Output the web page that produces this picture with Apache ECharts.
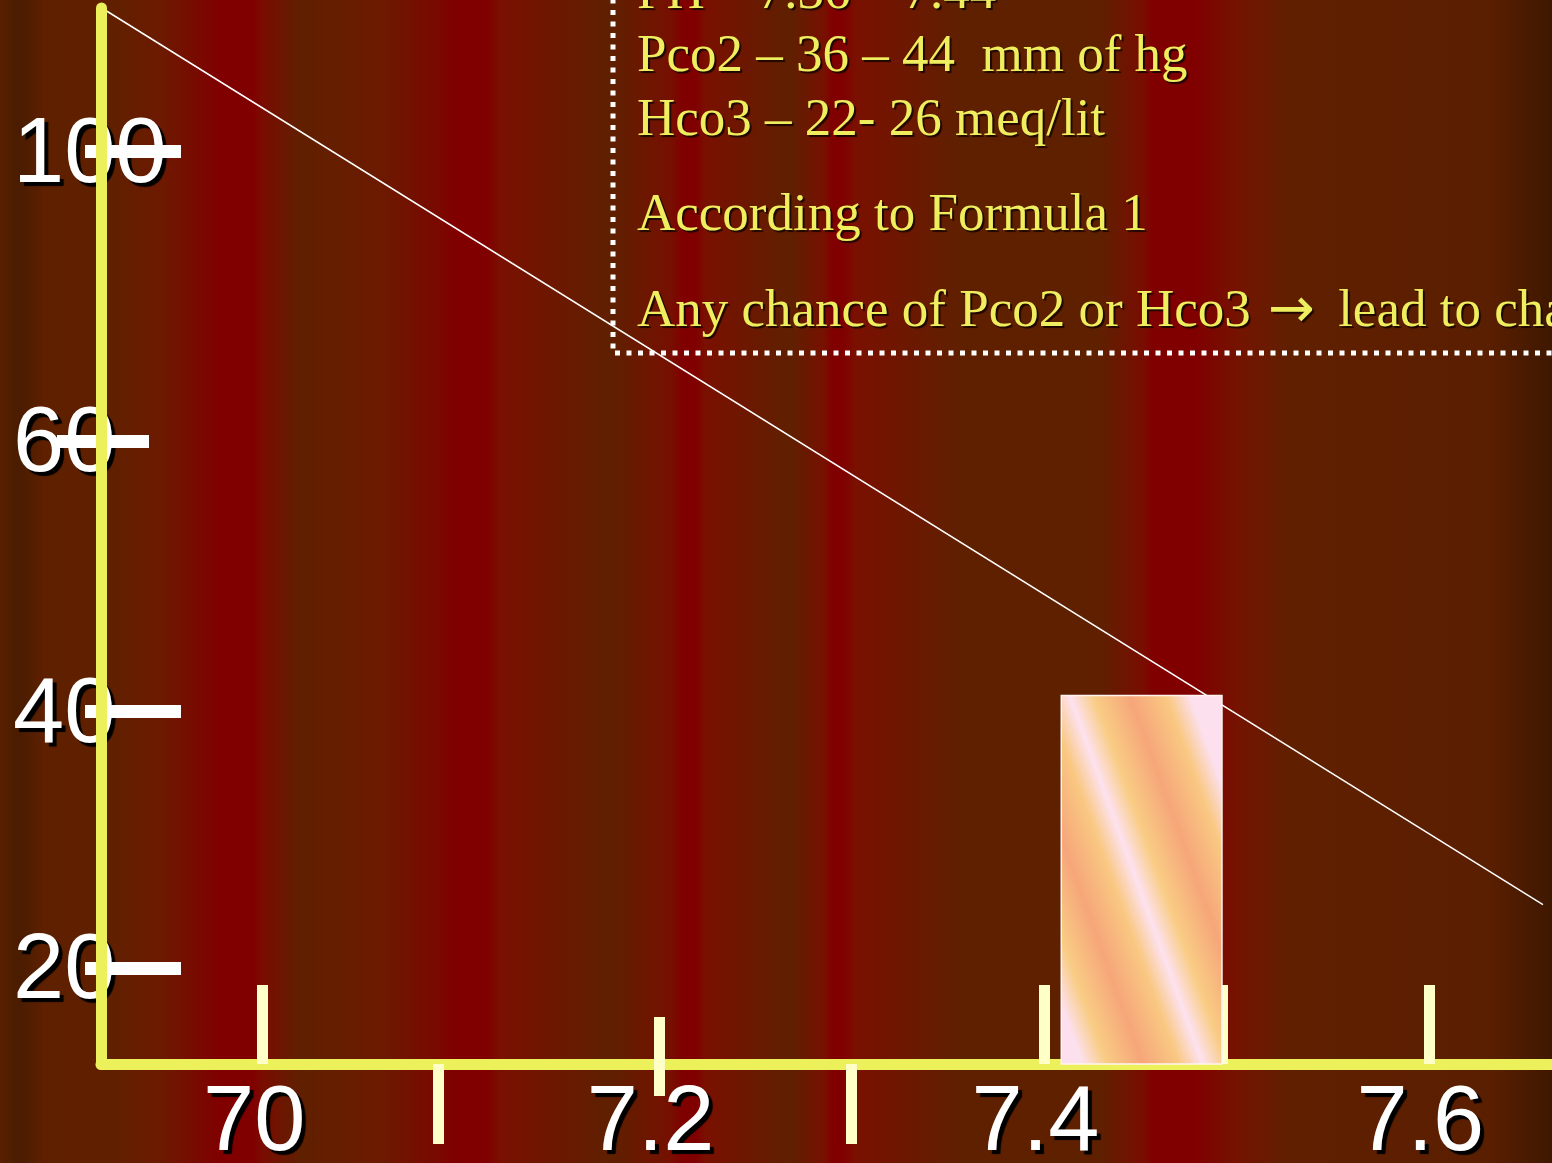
<!DOCTYPE html>
<html>
<head>
<meta charset="utf-8">
<style>
  html, body { margin: 0; padding: 0; background: #5f2000; }
  #chart { width: 1552px; height: 1163px; }
</style>
<script src="https://cdn.jsdelivr.net/npm/echarts@6/dist/echarts.min.js"></script>
</head>
<body>
<div id="chart"></div>
<script>
// Eje X (pH)
const xMin = 6.91;
const xMax = 7.664;
const xLabelValues = [6.994, 7.2, 7.4, 7.6];
const xLabelTexts = ['70', '7.2', '7.4', '7.6'];
const xUpTicks = [6.994, 7.4, 7.4925, 7.6];
const xDownTicks = [7.085, 7.3];
const xCrossTicks = [7.2];

// Eje Y (posiciones de las marcas y sus etiquetas)
const yTickValues = [9.1, 33.4, 59.0, 86.4];
const yTickLabels = ['20', '40', '60', '100'];
const yShortTicks = [9.1, 33.4, 86.4];
const yWideTicks = [59.0];

// Barra: [pH inicio, pH fin, altura]
const barData = [[7.409, 7.4925, 34.9]];

// Línea diagonal
const lineData = [[6.9104, 100], [7.6593, 15.1]];

// Texto del recuadro ({a|...} = flecha)
const boxLines = [
  'PH – 7.36 – 7.44',
  'Pco2 – 36 – 44  mm of hg',
  'Hco3 – 22- 26 meq/lit',
  'According to Formula 1',
  'Any chance of Pco2 or Hco3 {a|→} lead to change in pH'
];
const boxBaselines = [10, 73, 137, 232, 328];

// Fondo con franjas verticales
const bgStops = [
  [0, '#582000'], [20, '#4a1c00'], [45, '#5f2000'], [110, '#602000'], [160, '#6c1a00'],
  [220, '#800000'], [253, '#800000'], [262, '#7a0c00'], [300, '#602000'], [380, '#6c1a00'],
  [440, '#7a0800'], [455, '#800000'], [487, '#800000'], [500, '#7a1000'], [610, '#5f2000'],
  [670, '#761000'], [683, '#800000'], [696, '#800000'], [705, '#7a1000'], [790, '#5f2000'],
  [825, '#781000'], [832, '#800000'], [843, '#800000'], [855, '#7a1000'], [960, '#5f2000'],
  [1100, '#5f2000'], [1145, '#7a0c00'], [1152, '#800000'], [1195, '#800000'], [1240, '#741400'],
  [1290, '#602000'], [1490, '#5a1e00'], [1552, '#3e1800']
];

const W = 1552;
const chart = echarts.init(document.getElementById('chart'));

const numFont = '"Liberation Sans", Arial, sans-serif';
const serifFont = '"Liberation Serif", "Times New Roman", serif';
const yellow = '#ecf05a';
const tickPale = '#ffffc8';
const textYellow = '#eeee5e';

function nearestLabel(values, texts, v) {
  let best = 0;
  values.forEach((x, i) => { if (Math.abs(x - v) < Math.abs(values[best] - v)) best = i; });
  return texts[best];
}

// Ejes base
function baseX(extra) {
  return Object.assign({
    type: 'value', min: xMin, max: xMax, position: 'bottom',
    splitLine: { show: false },
    axisLine: { show: false, onZero: false },
    axisTick: { show: false },
    axisLabel: { show: false }
  }, extra);
}
function baseY(extra) {
  return Object.assign({
    type: 'value', min: 0, max: 100, position: 'left',
    splitLine: { show: false },
    axisLine: { show: false, onZero: false },
    axisTick: { show: false },
    axisLabel: { show: false }
  }, extra);
}

const labelStyle = {
  color: '#fff',
  fontFamily: numFont,
  fontSize: 92,
  lineHeight: 92,
  textShadowColor: '#000',
  textShadowOffsetX: 4,
  textShadowOffsetY: 4,
  textShadowBlur: 1
};

// Gradiente de la barra (franjas diagonales)
const barStops = [
  { offset: 0, color: '#fce0ee' },
  { offset: 0.1, color: '#f9cc84' },
  { offset: 0.25, color: '#f6a67a' },
  { offset: 0.4, color: '#f9c882' },
  { offset: 0.5, color: '#fde2f0' },
  { offset: 0.6, color: '#f9cc84' },
  { offset: 0.75, color: '#f6a67a' },
  { offset: 0.9, color: '#f9c882' },
  { offset: 1, color: '#fce0ee' }
];

const option = {
  animation: false,
  backgroundColor: new echarts.graphic.LinearGradient(0, 0, 1, 0,
    bgStops.map(([px, c]) => ({ offset: px / W, color: c }))),
  grid: { left: 101, right: 0, top: 8, bottom: 99, containLabel: false, outerBoundsMode: 'none' },
  xAxis: [
    baseX({
      z: 0,
      axisLabel: Object.assign({
        show: true,
        customValues: xLabelValues,
        margin: 15,
        verticalAlign: 'top',
        padding: [0, 17, 0, 0],
        formatter: v => nearestLabel(xLabelValues, xLabelTexts, v)
      }, labelStyle)
    }),
    baseX({ z: 1, axisLine: { show: true, onZero: false, lineStyle: { color: yellow, width: 11 } } }),
    baseX({
      z: 2,
      axisTick: { show: true, inside: true, length: 79, customValues: xUpTicks, lineStyle: { color: tickPale, width: 11 } }
    }),
    baseX({
      z: 2,
      axisTick: { show: true, inside: false, length: 80, customValues: xDownTicks, lineStyle: { color: tickPale, width: 11 } }
    }),
    baseX({
      z: 2, offset: 32,
      axisTick: { show: true, inside: true, length: 79, customValues: xCrossTicks, lineStyle: { color: tickPale, width: 11 } }
    })
  ],
  yAxis: [
    baseY({
      z: 0,
      axisLabel: Object.assign({
        show: true,
        customValues: yTickValues,
        margin: 88,
        align: 'left',
        verticalAlign: 'top',
        formatter: v => nearestLabel(yTickValues, yTickLabels, v)
      }, labelStyle, { lineHeight: 10 })
    }),
    baseY({
      z: 2, offset: 16,
      axisTick: { show: true, inside: true, length: 96, customValues: yShortTicks, lineStyle: { color: '#fff', width: 13 } }
    }),
    baseY({
      z: 2, offset: 44,
      axisTick: { show: true, inside: true, length: 92, customValues: yWideTicks, lineStyle: { color: '#fff', width: 13 } }
    }),
    baseY({ z: 3, axisLine: { show: true, onZero: false, lineStyle: { color: yellow, width: 11 } } })
  ],
  series: [
    {
      type: 'line',
      data: lineData,
      symbol: 'none',
      z: 2,
      clip: false,
      lineStyle: { color: '#ffffff', width: 1.5 }
    },
    {
      type: 'custom',
      data: barData,
      z: 4,
      renderItem: (params, api) => {
        const p0 = api.coord([api.value(0), 0]);
        const p1 = api.coord([api.value(1), api.value(2)]);
        const x = p0[0], y = p1[1], w = p1[0] - p0[0], h = p0[1] - p1[1];
        const cx = x + w / 2, cy = y + h / 2;
        const dx = 0.94, dy = -0.34;
        return {
          type: 'rect',
          shape: { x: x, y: y, width: w, height: h },
          style: {
            fill: new echarts.graphic.LinearGradient(
              cx - dx * 118, cy - dy * 118, cx + dx * 108, cy + dy * 108, barStops, true),
            stroke: '#fff4f0',
            lineWidth: 1.5
          }
        };
      }
    }
  ],
  graphic: [
    {
      type: 'rect',
      z: 10,
      shape: { x: 613, y: -30, width: 1100, height: 383 },
      style: { fill: 'none', stroke: '#ffffff', lineWidth: 5, lineDash: [5, 6.5] }
    }
  ].concat(boxLines.map((t, i) => ({
    type: 'text',
    z: 10,
    x: 637,
    y: boxBaselines[i] - 16,
    style: {
      text: t,
      fill: textYellow,
      font: '53px ' + serifFont,
      verticalAlign: 'middle',
      align: 'left',
      textShadowColor: '#1e0600',
      textShadowOffsetX: 2,
      textShadowOffsetY: 2,
      textShadowBlur: 1,
      rich: {
        a: {
          fill: textYellow,
          font: '56px "DejaVu Sans", sans-serif',
          padding: [0, 10, 0, 4],
          textShadowColor: '#1e0600',
          textShadowOffsetX: 2,
          textShadowOffsetY: 2,
          textShadowBlur: 1
        }
      }
    }
  })))
};

chart.setOption(option);
</script>
</body>
</html>
